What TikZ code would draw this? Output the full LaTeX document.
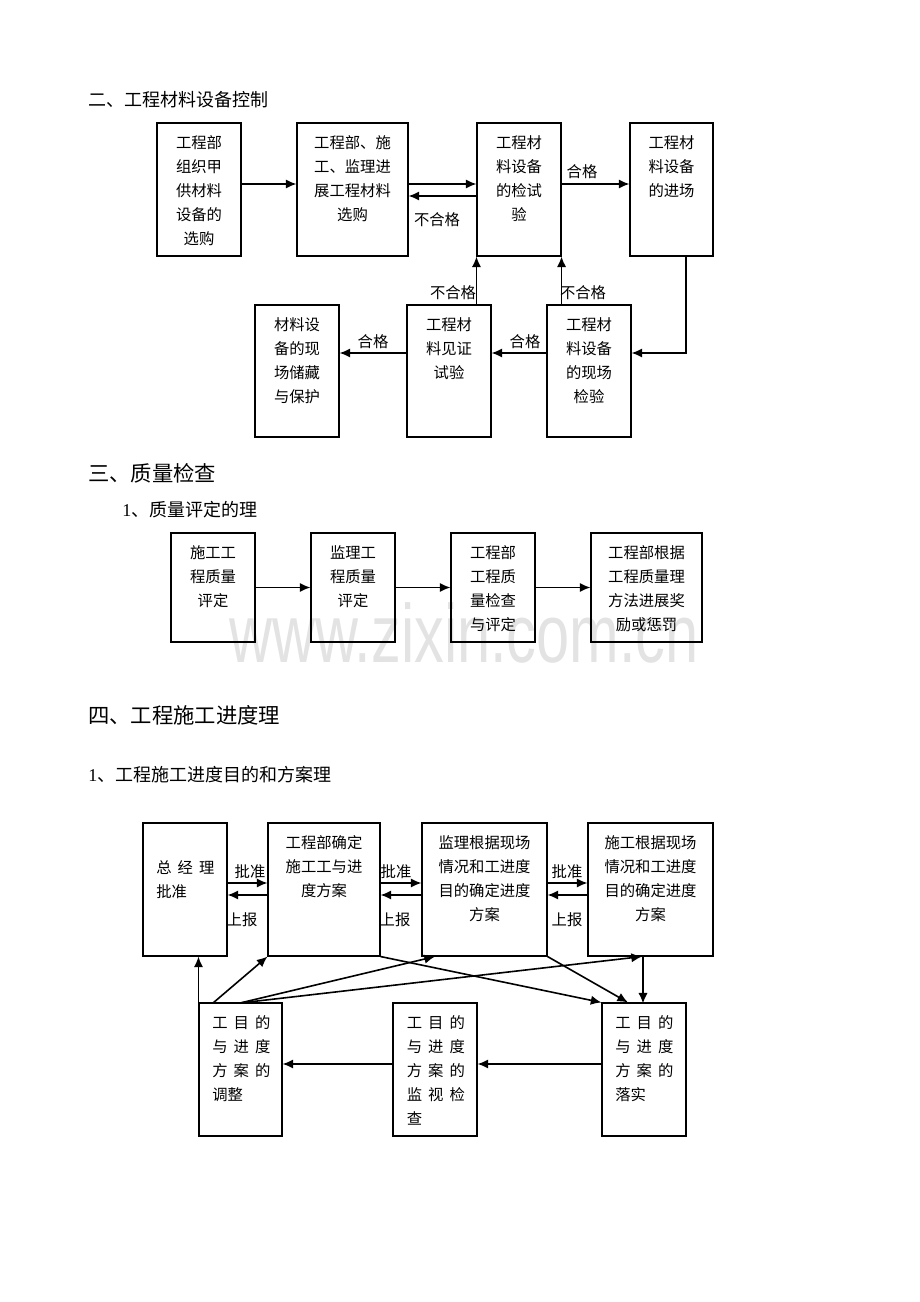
\documentclass[tikz,border=0pt]{standalone}
\usepackage{fontspec}
\setmainfont{Liberation Serif}
\newfontfamily\cjk{Noto Sans CJK SC}
\newfontfamily\wmfont{Liberation Sans}
\usetikzlibrary{fit}
\usetikzlibrary{arrows.meta}

\begin{document}
\begin{tikzpicture}[x=0.75pt, y=-0.75pt]
  \tikzset{BOX/.style={draw, line width=0.8pt, inner sep=0pt} }
  \tikzset{TXT/.style={anchor=north, align=center, inner sep=0pt, font=\cjk\fontsize{11.5}{18}\selectfont} }
  \tikzset{TXL/.style={anchor=north west, align=left, inner sep=0pt, font=\cjk\fontsize{11.5}{18}\selectfont} }
  \tikzset{LBL/.style={inner sep=0pt, font=\cjk\fontsize{11.5}{14}\selectfont} }
  \tikzset{HD/.style={anchor=west, inner sep=0pt, font=\cjk\fontsize{13.5}{16}\selectfont} }
  \tikzset{HDB/.style={anchor=west, inner sep=0pt, font=\cjk\fontsize{16}{19}\selectfont} }
  \tikzset{AR/.style={-{Latex[length=8pt,width=7pt]}, line width=1.2pt} }

  \useasboundingbox (0,0) rectangle (920,1302);

  % watermark
  \node[anchor=base, inner sep=0pt, text=black!11, xscale=0.72, font=\wmfont\fontsize{62}{62}\selectfont] (wm) at (464,662) {www.zixin.com.cn};

  % headings
  \node[HD]  (h1) at (88,100) {二、工程材料设备控制};
  \node[HDB] (h2) at (88,473) {三、质量检查};
  \node[HD]  (h3) at (122,510) {\rmfamily 1{\cjk 、质量评定的理}};
  \node[HDB] (h4) at (88,715) {四、工程施工进度理};
  \node[HD]  (h5) at (88,775) {\rmfamily 1{\cjk 、工程施工进度目的和方案理}};

  % materials control
  \node[BOX, fit={(157,123) (241,256)}] (selA) {};
  \node[BOX, fit={(297,123) (408,256)}] (selB) {};
  \node[BOX, fit={(477,123) (561,256)}] (test) {};
  \node[BOX, fit={(630,123) (713,256)}] (entry) {};
  \node[BOX, fit={(255,305) (339,437)}] (store) {};
  \node[BOX, fit={(407,305) (491,437)}] (witness) {};
  \node[BOX, fit={(547,305) (631,437)}] (check) {};

  \node[TXT] at (199,135) {工程部\\组织甲\\供材料\\设备的\\选购};
  \node[TXT] at (352.5,135) {工程部、施\\工、监理进\\展工程材料\\选购};
  \node[TXT] at (519,135) {工程材\\料设备\\的检试\\验};
  \node[TXT] at (671.5,135) {工程材\\料设备\\的进场};
  \node[TXT] at (297,317) {材料设\\备的现\\场储藏\\与保护};
  \node[TXT] at (449,317) {工程材\\料见证\\试验};
  \node[TXT] at (589,317) {工程材\\料设备\\的现场\\检验};

  \coordinate (upA) at (0,184);
  \coordinate (upB) at (0,196);
  \coordinate (lowA) at (0,353);
  \coordinate (xE) at (686,0);

  \draw[AR] (selA.east |- upA) -- (selB.west |- upA);
  \draw[AR] (selB.east |- upA) -- (test.west |- upA);
  \draw[AR] (test.west |- upB) -- (selB.east |- upB);
  \draw[AR] (test.east |- upA) -- (entry.west |- upA);
  \draw[AR] (entry.south -| xE) |- (check.east |- lowA);
  \draw[AR] (check.west |- lowA) -- (witness.east |- lowA);
  \draw[AR] (witness.west |- lowA) -- (store.east |- lowA);
  \draw[AR] (witness.north -| test.south west) -- (test.south west);
  \draw[AR] (check.north -| test.south east) -- (test.south east);

  \node[LBL] (l1) at (437,220) {不合格};
  \node[LBL] (l2) at (582,172) {合格};
  \node[LBL] (l3) at (525,342) {合格};
  \node[LBL] (l4) at (373,342) {合格};
  \node[LBL] (l5) at (453,293) {不合格};
  \node[LBL] (l6) at (583,293) {不合格};

  % quality check
  \node[BOX, fit={(171,533) (255,642)}] (q1) {};
  \node[BOX, fit={(311,533) (395,642)}] (q2) {};
  \node[BOX, fit={(451,533) (535,642)}] (q3) {};
  \node[BOX, fit={(591,533) (702,642)}] (q4) {};

  \node[TXT] at (213,545) {施工工\\程质量\\评定};
  \node[TXT] at (353,545) {监理工\\程质量\\评定};
  \node[TXT] at (493,545) {工程部\\工程质\\量检查\\与评定};
  \node[TXT] at (646.5,545) {工程部根据\\工程质量理\\方法进展奖\\励或惩罚};

  \draw[AR] (q1) -- (q2);
  \draw[AR] (q2) -- (q3);
  \draw[AR] (q3) -- (q4);

  % schedule
  \node[BOX, fit={(143,823) (227,956)}] (mgr) {};
  \node[BOX, fit={(268,823) (380,956)}] (dept) {};
  \node[BOX, fit={(422,823) (547,956)}] (sup) {};
  \node[BOX, fit={(588,823) (713,956)}] (con) {};
  \node[BOX, fit={(199,1003) (282,1136)}] (adj) {};
  \node[BOX, fit={(393,1003) (477,1136)}] (mon) {};
  \node[BOX, fit={(602,1003) (686,1136)}] (impl) {};

  \node[TXL] at (156,860) {总\hspace{0.4em}经\hspace{0.4em}理\\批准};
  \node[TXT] at (324,835) {工程部确定\\施工工与进\\度方案};
  \node[TXT] at (484.5,835) {监理根据现场\\情况和工进度\\目的确定进度\\方案};
  \node[TXT] at (650.5,835) {施工根据现场\\情况和工进度\\目的确定进度\\方案};
  \node[TXL] at (212,1015) {工\hspace{0.4em}目\hspace{0.4em}的\\与\hspace{0.4em}进\hspace{0.4em}度\\方\hspace{0.4em}案\hspace{0.4em}的\\调整};
  \node[TXL] at (406.5,1015) {工\hspace{0.4em}目\hspace{0.4em}的\\与\hspace{0.4em}进\hspace{0.4em}度\\方\hspace{0.4em}案\hspace{0.4em}的\\监\hspace{0.4em}视\hspace{0.4em}检\\查};
  \node[TXL] at (615,1015) {工\hspace{0.4em}目\hspace{0.4em}的\\与\hspace{0.4em}进\hspace{0.4em}度\\方\hspace{0.4em}案\hspace{0.4em}的\\落实};

  \coordinate (okY) at (0,883);
  \coordinate (upY) at (0,895);
  \coordinate (fromA) at (213,1003);
  \coordinate (fromB) at (240,1003);

  \draw[AR] (mgr.east |- okY) -- (dept.west |- okY);
  \draw[AR] (dept.west |- upY) -- (mgr.east |- upY);
  \draw[AR] (dept.east |- okY) -- (sup.west |- okY);
  \draw[AR] (sup.west |- upY) -- (dept.east |- upY);
  \draw[AR] (sup.east |- okY) -- (con.west |- okY);
  \draw[AR] (con.west |- upY) -- (sup.east |- upY);

  \node[LBL] (a1) at (250,872) {批准};
  \node[LBL] (a2) at (242,920) {上报};
  \node[LBL] (a3) at (396,872) {批准};
  \node[LBL] (a4) at (395,920) {上报};
  \node[LBL] (a5) at (567,872) {批准};
  \node[LBL] (a6) at (567,920) {上报};

  \draw[AR] (con.south -| impl.north) ++(-1,0) -- ++(0,47);
  \draw[AR] (dept.south east) -- (impl.north west);
  \draw[AR] (sup.south east) -- (impl.north -| 628,0);
  \draw[AR] (impl.west |- 0,1064) -- (mon.east |- 0,1064);
  \draw[AR] (mon.west |- 0,1064) -- (adj.east |- 0,1064);
  \draw[AR] (adj.north west) -- (adj.north west |- mgr.south);
  \draw[AR] (fromA) -- (dept.south west);
  \draw[AR] (fromB) -- (sup.south -| 435,0);
  \draw[AR] (fromB) -- (con.south -| 642,0);
\end{tikzpicture}
\end{document}
